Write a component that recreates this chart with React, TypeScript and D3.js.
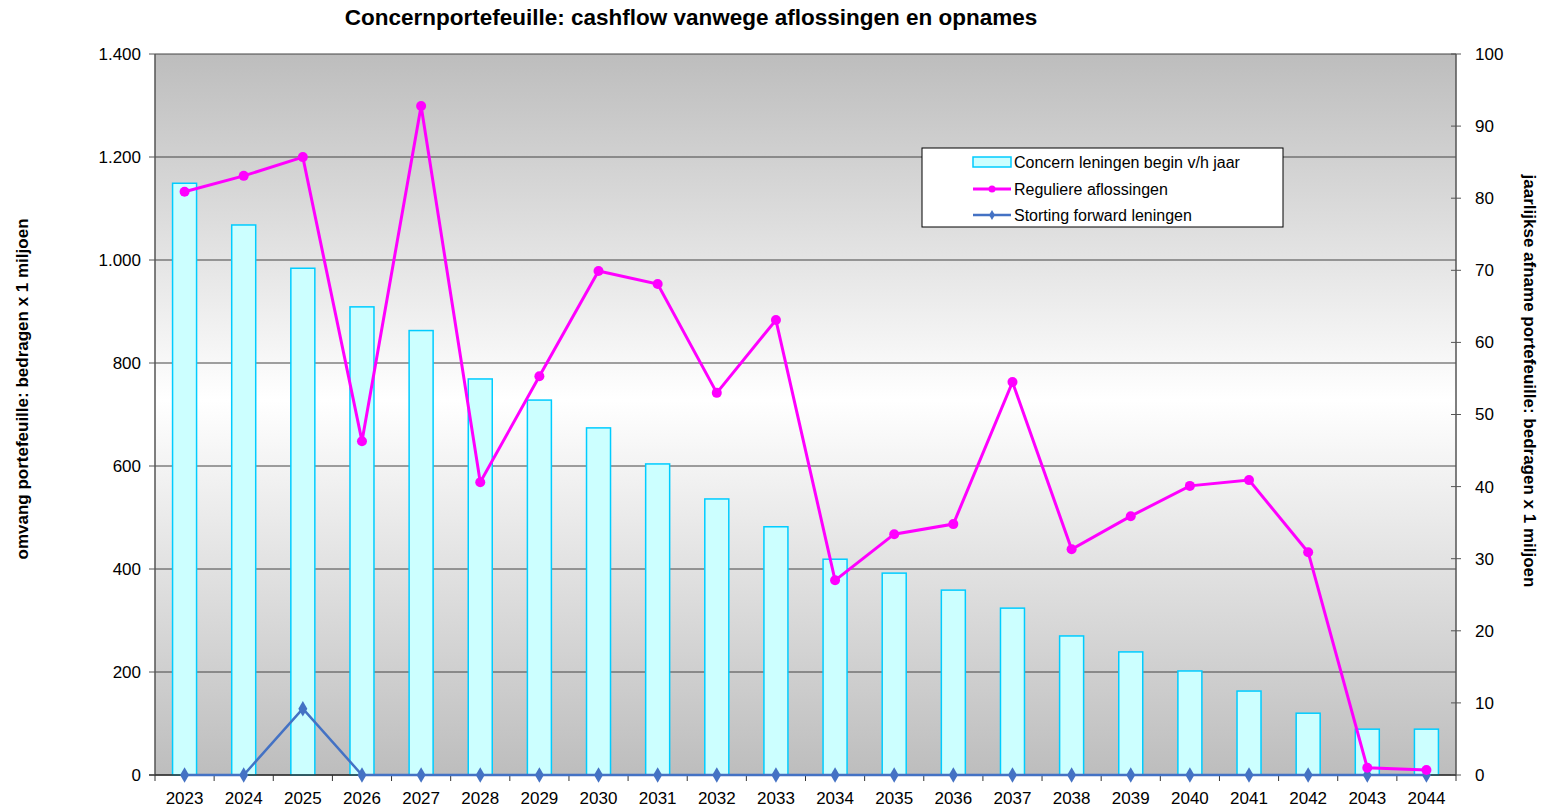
import React from 'react'
import * as d3 from 'd3'

const years = [
  '2023', '2024', '2025', '2026', '2027', '2028', '2029', '2030', '2031', '2032', '2033',
  '2034', '2035', '2036', '2037', '2038', '2039', '2040', '2041', '2042', '2043', '2044',
]
// concern leningen begin v/h jaar (left axis)
const leningen = [
  1149, 1068, 984, 909, 863, 769, 728, 674, 604, 536, 482,
  419, 392, 359, 324, 270, 239, 202, 163, 120, 89, 89,
]
// reguliere aflossingen (right axis)
const aflossingen = [
  80.9, 83.1, 85.7, 46.3, 92.8, 40.6, 55.3, 69.9, 68.1, 53.0, 63.1,
  27.0, 33.4, 34.8, 54.5, 31.3, 35.9, 40.1, 40.9, 30.9, 1.0, 0.7,
]
// storting forward leningen (right axis)
const storting = [
  0, 0, 9.2, 0, 0, 0, 0, 0, 0, 0, 0,
  0, 0, 0, 0, 0, 0, 0, 0, 0, 0, 0,
]
const leftTicks = [0, 200, 400, 600, 800, 1000, 1200, 1400]
const rightTicks = [0, 10, 20, 30, 40, 50, 60, 70, 80, 90, 100]

const W = 1550
const H = 808
const m = { left: 155, right: 1456, top: 54, bottom: 775 }
const font = '"Liberation Sans", Arial, sans-serif'
const fmt = (v: number) => d3.format(',')(v).replace(/,/g, '.')

const App = () => {
  const x = d3.scaleBand().domain(years).range([m.left, m.right])
  const yL = d3.scaleLinear().domain([0, 1400]).range([m.bottom, m.top])
  const yR = d3.scaleLinear().domain([0, 100]).range([m.bottom, m.top])
  const cx = (d: string) => (x(d) as number) + x.bandwidth() / 2
  const barW = 24

  const lineR = d3
    .line<number>()
    .x((_, i) => cx(years[i]))
    .y((d) => yR(d))

  const diamond = d3.symbol().type(d3.symbolDiamond).size(70)

  return (
    <svg width={W} height={H} style={{ position: 'absolute', left: 0, top: 0 }} fontFamily={font}>
      <defs>
        <linearGradient id="bg" x1="0" y1="0" x2="0" y2="1">
          <stop offset="0%" stopColor="#bdbdbd" />
          <stop offset="48%" stopColor="#ffffff" />
          <stop offset="100%" stopColor="#bdbdbd" />
        </linearGradient>
      </defs>
      <rect x={0} y={0} width={W} height={H} fill="#fff" />
      <rect x={m.left} y={m.top} width={m.right - m.left} height={m.bottom - m.top} fill="url(#bg)" />

      {/* gridlines */}
      {leftTicks.map((t) => (
        <line key={t} x1={m.left} x2={m.right} y1={yL(t)} y2={yL(t)} stroke="#444" strokeWidth={1} />
      ))}

      {/* bars */}
      {leningen.map((v, i) => (
        <rect
          key={years[i]}
          x={cx(years[i]) - barW / 2}
          y={yL(v)}
          width={barW}
          height={yL(0) - yL(v)}
          fill="#ccffff"
          stroke="#00ccff"
          strokeWidth={1.5}
        />
      ))}

      {/* axes */}
      <line x1={m.left} x2={m.left} y1={m.top} y2={m.bottom} stroke="#555" strokeWidth={1.5} />
      <line x1={m.right} x2={m.right} y1={m.top} y2={m.bottom} stroke="#555" strokeWidth={1.5} />
      <line x1={m.left - 6} x2={m.right} y1={m.bottom} y2={m.bottom} stroke="#333" strokeWidth={1.5} />
      {leftTicks.map((t) => (
        <g key={t}>
          <line x1={m.left - 6} x2={m.left} y1={yL(t)} y2={yL(t)} stroke="#555" />
          <text x={m.left - 14} y={yL(t)} dy="0.35em" textAnchor="end" fontSize={17} fill="#000">
            {fmt(t)}
          </text>
        </g>
      ))}
      {rightTicks.map((t) => (
        <g key={t}>
          <line x1={m.right - 5} x2={m.right + 5} y1={yR(t)} y2={yR(t)} stroke="#555" />
          <text x={m.right + 19} y={yR(t)} dy="0.35em" textAnchor="start" fontSize={17} fill="#000">
            {t}
          </text>
        </g>
      ))}
      {years.map((yr) => (
        <g key={yr}>
          <line x1={x(yr) as number} x2={x(yr) as number} y1={m.bottom} y2={m.bottom + 6} stroke="#333" />
          <text x={cx(yr)} y={m.bottom + 29} textAnchor="middle" fontSize={17} fill="#000">
            {yr}
          </text>
        </g>
      ))}
      <line x1={m.right} x2={m.right} y1={m.bottom} y2={m.bottom + 6} stroke="#333" />

      {/* storting forward leningen */}
      <path d={lineR(storting) as string} fill="none" stroke="#4472c4" strokeWidth={2.5} />
      {storting.map((v, i) => (
        <path
          key={years[i]}
          d={diamond() as string}
          transform={`translate(${cx(years[i])},${yR(v)})`}
          fill="#4472c4"
        />
      ))}

      {/* reguliere aflossingen */}
      <path d={lineR(aflossingen) as string} fill="none" stroke="#ff00ff" strokeWidth={3} />
      {aflossingen.map((v, i) => (
        <circle key={years[i]} cx={cx(years[i])} cy={yR(v)} r={5} fill="#ff00ff" />
      ))}

      {/* legend */}
      <g transform="translate(922,148)">
        <rect x={0} y={0} width={361} height={79} fill="#fff" stroke="#000" strokeWidth={1} />
        <rect x={51} y={9} width={38} height={10} fill="#ccffff" stroke="#00ccff" strokeWidth={1.5} />
        <text x={92} y={14} dy="0.35em" fontSize={16}>Concern leningen begin v/h jaar</text>
        <line x1={51} x2={89} y1={41} y2={41} stroke="#ff00ff" strokeWidth={3} />
        <circle cx={70} cy={41} r={3.5} fill="#ff00ff" />
        <text x={92} y={41} dy="0.35em" fontSize={16}>Reguliere aflossingen</text>
        <line x1={51} x2={89} y1={67} y2={67} stroke="#4472c4" strokeWidth={2.5} />
        <path d={d3.symbol().type(d3.symbolDiamond).size(30)() as string} transform="translate(70,67)" fill="#4472c4" />
        <text x={92} y={67} dy="0.35em" fontSize={16}>Storting forward leningen</text>
      </g>

      {/* titles */}
      <text x={691} y={25} textAnchor="middle" fontSize={22.5} fontWeight="bold">
        Concernportefeuille: cashflow vanwege aflossingen en opnames
      </text>
      <text
        transform={`translate(28,389) rotate(-90)`}
        textAnchor="middle"
        fontSize={17}
        fontWeight="bold"
      >
        omvang portefeuille: bedragen x 1 miljoen
      </text>
      <text
        transform={`translate(1524,381) rotate(90)`}
        textAnchor="middle"
        fontSize={17}
        fontWeight="bold"
      >
        jaarlijkse afname portefeuille: bedragen x 1 miljoen
      </text>
    </svg>
  )
}

export default App
